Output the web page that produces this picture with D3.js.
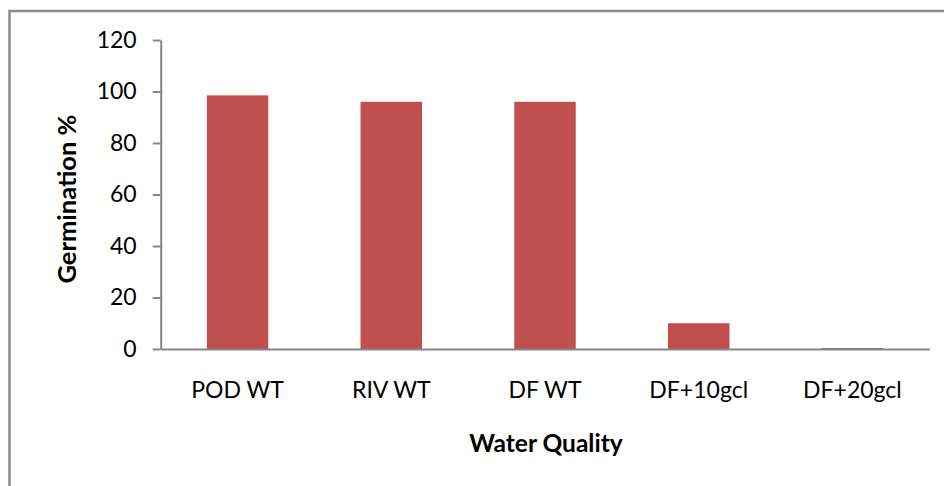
<!DOCTYPE html>
<html><head><meta charset="utf-8">
<script src="https://cdn.jsdelivr.net/npm/d3@7"></script>
<style>body{margin:0;background:#fff}svg{display:block}text{font-family:Lato,"Open Sans",sans-serif}</style>
</head><body><svg id="c" width="944" height="486"></svg>
<script>
const categories = ["POD WT","RIV WT","DF WT","DF+10gcl","DF+20gcl"];
const germination = [98.5, 96, 96, 10, 0.4];
const yTicks = [0,20,40,60,80,100,120];
const xTitle = "Water Quality";
const yTitle = "Germination %";

const svg = d3.select("#c");
const m = {left:160.7, right:929.3, top:40, bottom:349};
const axisColor = "#868686";

// outer border
svg.append("path").attr("d","M9.5,486 V11 H944").attr("fill","none").attr("stroke","#8c8c8c").attr("stroke-width",2.5);

const x = d3.scaleBand().domain(categories).range([m.left,m.right]).paddingInner(0.6).paddingOuter(0.3);
const y = d3.scaleLinear().domain([0,120]).range([m.bottom,m.top]);

svg.selectAll("rect.bar").data(categories).join("rect").attr("class","bar")
  .attr("x",d=>x(d)).attr("width",x.bandwidth())
  .attr("y",(d,i)=>y(germination[i])).attr("height",(d,i)=>y(0)-y(germination[i]))
  .attr("fill","#C0504D");

// y axis
const ya = svg.append("g").attr("transform",`translate(${m.left},0)`)
  .call(d3.axisLeft(y).tickValues(yTicks).tickSize(8).tickPadding(16).tickSizeOuter(0));
ya.select(".domain").attr("stroke",axisColor).attr("stroke-width",2);
ya.selectAll(".tick line").attr("stroke",axisColor).attr("stroke-width",2);
ya.selectAll(".tick text").attr("font-size",23).attr("fill","#000").attr("font-family","Lato");

// x axis
const xa = svg.append("g").attr("transform",`translate(0,${m.bottom})`)
  .call(d3.axisBottom(x).tickSize(0).tickPadding(0).tickSizeOuter(0));
xa.select(".domain").attr("stroke",axisColor).attr("stroke-width",2);
xa.selectAll(".tick text").attr("font-size",23).attr("fill","#000").attr("font-family","Lato")
  .attr("dy",null).attr("y",49);

svg.append("text").attr("x",546).attr("y",452).attr("text-anchor","middle")
  .attr("font-size",24.5).attr("font-weight","bold").text(xTitle);
svg.append("text").attr("transform","translate(76,199) rotate(-90)").attr("text-anchor","middle")
  .attr("font-size",25.5).attr("font-weight","bold").text(yTitle);
</script></body></html>
